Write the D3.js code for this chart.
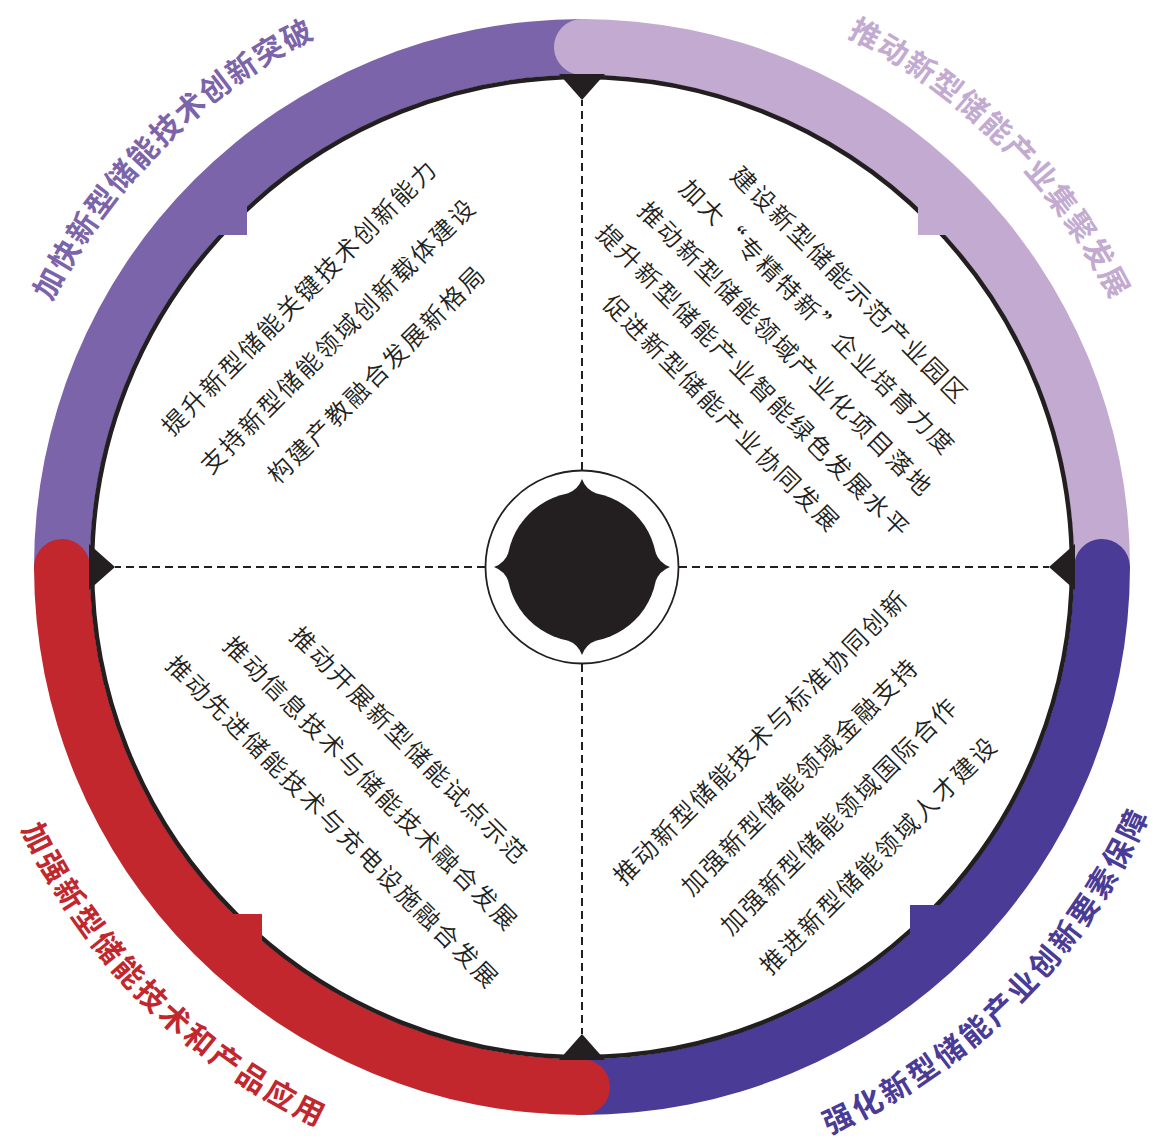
<!DOCTYPE html>
<html>
<head>
<meta charset="utf-8">
<script src="https://cdn.jsdelivr.net/npm/d3@7"></script>
<style>
  body { margin: 0; background: #fff; }
  svg { display: block; font-family: "Noto Sans CJK SC", "Noto Sans", sans-serif; }
</style>
</head>
<body>
<svg id="chart" width="1176" height="1140"></svg>
<script>
// quadrants, clockwise from top-left
var titles = [
  "加快新型储能技术创新突破",
  "推动新型储能产业集聚发展",
  "强化新型储能产业创新要素保障",
  "加强新型储能技术和产品应用"
];
var colors = ["#7b64aa", "#c3aad1", "#4a3b96", "#c1272d"];

var itemsTL = [
  "提升新型储能关键技术创新能力",
  "支持新型储能领域创新载体建设",
  "构建产教融合发展新格局"
];
var itemsTR = [
  "建设新型储能示范产业园区",
  "加大“专精特新”企业培育力度",
  "推动新型储能领域产业化项目落地",
  "提升新型储能产业智能绿色发展水平",
  "促进新型储能产业协同发展"
];
var itemsBR = [
  "推动新型储能技术与标准协同创新",
  "加强新型储能领域金融支持",
  "加强新型储能领域国际合作",
  "推进新型储能领域人才建设"
];
var itemsBL = [
  "推动开展新型储能试点示范",
  "推动信息技术与储能技术融合发展",
  "推动先进储能技术与充电设施融合发展"
];
var items = [itemsTL, itemsTR, itemsBR, itemsBL];

// layout
var cx = 582, cy = 567;
var rIn = 492, rOut = 548, rRing = 490, rTitle = 606;
var dark = "#231f20";
var rad = Math.PI / 180;
var quads = d3.range(4);
var midAngle = function(i) { return -45 + 90 * i; };     // clockwise from north
var textRot = [-45, 45, -45, 45];
var lineDist = [[392, 283], [390, 209], [245, 412], [247, 355]];
var lineShift = [-10, -11, 5, 3];

var svg = d3.select("#chart");
var g = svg.append("g").attr("transform", "translate(" + cx + "," + cy + ")");

// colored bands with round ends
var capR = (rOut - rIn) / 2;
var capA = Math.asin(capR / ((rIn + rOut) / 2));
var band = d3.arc().innerRadius(rIn).outerRadius(rOut).cornerRadius(capR);

g.selectAll("path.band")
  .data(quads)
  .enter().append("path")
  .attr("class", "band")
  .attr("fill", function(i) { return colors[i]; })
  .attr("d", function(i) {
    var a0 = (i * 90 - 90) * rad, a1 = i * 90 * rad;
    return band({ startAngle: a0 - capA, endAngle: a1 + capA });
  });

// black ring
g.append("circle")
  .attr("r", rRing)
  .attr("fill", "none")
  .attr("stroke", dark)
  .attr("stroke-width", 4.5);

// square tabs on the diagonals
var tabCorner = [[-335, -332], [336, -332], [328, 338], [-320, 347]];
var tab = 45;
g.selectAll("rect.tab")
  .data(quads)
  .enter().append("rect")
  .attr("class", "tab")
  .attr("fill", function(i) { return colors[i]; })
  .attr("width", tab).attr("height", tab)
  .attr("x", function(i) { var c = tabCorner[i]; return c[0] < 0 ? c[0] - tab : c[0]; })
  .attr("y", function(i) { var c = tabCorner[i]; return c[1] < 0 ? c[1] - tab : c[1]; });

// arrow heads and dashed axes
var axes = [0, 90, 180, 270];
g.selectAll("path.arrow")
  .data(axes)
  .enter().append("path")
  .attr("class", "arrow")
  .attr("fill", dark)
  .attr("transform", function(a) { return "rotate(" + a + ")"; })
  .attr("d", "M-23,-" + (rRing + 3) + "L23,-" + (rRing + 3) + "L0,-467Z");

g.selectAll("line.axis")
  .data(axes)
  .enter().append("line")
  .attr("class", "axis")
  .attr("transform", function(a) { return "rotate(" + a + ")"; })
  .attr("x1", 0).attr("y1", -97)
  .attr("x2", 0).attr("y2", -467)
  .attr("stroke", dark)
  .attr("stroke-width", 2)
  .attr("stroke-dasharray", "8,5");

// hub
g.append("circle")
  .attr("r", 96.5)
  .attr("fill", "#fff")
  .attr("stroke", dark)
  .attr("stroke-width", 1.8);
g.append("circle").attr("r", 75).attr("fill", dark);
g.selectAll("path.spike")
  .data(axes)
  .enter().append("path")
  .attr("class", "spike")
  .attr("fill", dark)
  .attr("transform", function(a) { return "rotate(" + a + ")"; })
  .attr("d", "M-15,-73.3Q-4,-77 0,-88Q4,-77 15,-73.3Z");

// curved titles
var defs = svg.append("defs");
quads.forEach(function(i) {
  var m = midAngle(i), top = i < 2;
  var p = d3.path();
  var a0 = (m - 60 - 90) * rad, a1 = (m + 60 - 90) * rad;
  if (top) p.arc(0, 0, rTitle, a0, a1, false);
  else p.arc(0, 0, rTitle, a1, a0, true);
  defs.append("path").attr("id", "tp" + i).attr("d", p.toString());
});

g.selectAll("text.title")
  .data(quads)
  .enter().append("text")
  .attr("class", "title")
  .attr("fill", function(i) { return colors[i]; })
  .attr("font-size", 30)
  .attr("font-weight", 700)
  .attr("letter-spacing", 2.5)
  .attr("dominant-baseline", "central")
  .append("textPath")
  .attr("href", function(i) { return "#tp" + i; })
  .attr("startOffset", "50%")
  .attr("text-anchor", "middle")
  .text(function(i) { return titles[i]; });

// item lines inside each quadrant
quads.forEach(function(i) {
  var m = midAngle(i) * rad;
  var u = [Math.sin(m), -Math.cos(m)];
  var r = textRot[i] * rad;
  var t = [Math.cos(r), Math.sin(r)];
  var list = items[i];
  var dist = d3.scaleLinear().domain([0, list.length - 1]).range(lineDist[i]);
  g.selectAll("text.item" + i)
    .data(list)
    .enter().append("text")
    .attr("class", "item" + i)
    .attr("fill", dark)
    .attr("font-size", 24.5)
    .attr("font-weight", 350)
    .attr("letter-spacing", 2.5)
    .attr("text-anchor", "middle")
    .attr("dominant-baseline", "central")
    .attr("transform", function(d, k) {
      var dd = dist(k), s = lineShift[i] + 1.25;
      var x = u[0] * dd + t[0] * s, y = u[1] * dd + t[1] * s;
      return "translate(" + x + "," + y + ") rotate(" + textRot[i] + ")";
    })
    .text(function(d) { return d; });
});
</script>
</body>
</html>
